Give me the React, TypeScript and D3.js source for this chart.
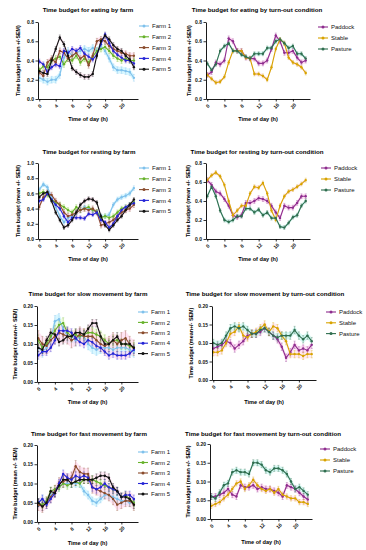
import * as d3 from "d3";
import { useEffect, useRef } from "react";

const hours = [0, 1, 2, 3, 4, 5, 6, 7, 8, 9, 10, 11, 12, 13, 14, 15, 16, 17, 18, 19, 20, 21, 22, 23];
const hourTicks = [0, 4, 8, 12, 16, 20];

const farmNames = ["Farm 1", "Farm 2", "Farm 3", "Farm 4", "Farm 5"];
const turnoutNames = ["Paddock", "Stable", "Pasture"];
const farmColors = ["#7fc1ec", "#67b22b", "#8a4b2c", "#2424d6", "#111111"];
const farmBands = ["#c9f3ff", "#f4ffd9", "#ffd9ee", "#ffd9ee", "#ffe3f2"];
const turnoutColors = ["#8e2d8e", "#d8a300", "#2f6e4f"];
const turnoutBands = ["#ffd2ef", "#ffe0f0", "#c8f6f0"];

// eating
const eatFarm1 = [0.22, 0.2, 0.18, 0.2, 0.2, 0.25, 0.43, 0.5, 0.45, 0.48, 0.5, 0.52, 0.5, 0.53, 0.5, 0.55, 0.5, 0.42, 0.33, 0.3, 0.3, 0.29, 0.28, 0.22];
const eatFarm2 = [0.3, 0.34, 0.33, 0.4, 0.42, 0.44, 0.36, 0.42, 0.4, 0.45, 0.38, 0.42, 0.38, 0.44, 0.5, 0.52, 0.54, 0.5, 0.45, 0.42, 0.4, 0.42, 0.4, 0.4];
const eatFarm3 = [0.28, 0.24, 0.38, 0.42, 0.38, 0.5, 0.48, 0.42, 0.45, 0.48, 0.42, 0.45, 0.35, 0.45, 0.6, 0.62, 0.6, 0.55, 0.52, 0.5, 0.48, 0.47, 0.45, 0.45];
const eatFarm4 = [0.39, 0.36, 0.28, 0.33, 0.36, 0.34, 0.5, 0.48, 0.52, 0.5, 0.53, 0.47, 0.44, 0.41, 0.46, 0.57, 0.67, 0.58, 0.5, 0.46, 0.43, 0.4, 0.4, 0.37];
const eatFarm5 = [0.29, 0.27, 0.26, 0.4, 0.52, 0.64, 0.57, 0.45, 0.32, 0.28, 0.25, 0.23, 0.23, 0.26, 0.45, 0.6, 0.66, 0.62, 0.56, 0.52, 0.5, 0.45, 0.41, 0.33];
const eatPaddock = [0.25, 0.28, 0.38, 0.36, 0.4, 0.63, 0.6, 0.5, 0.5, 0.43, 0.42, 0.42, 0.37, 0.37, 0.4, 0.52, 0.66, 0.6, 0.48, 0.48, 0.5, 0.43, 0.38, 0.4];
const eatStable = [0.25, 0.21, 0.17, 0.18, 0.23, 0.38, 0.5, 0.5, 0.5, 0.43, 0.42, 0.26, 0.26, 0.24, 0.2, 0.33, 0.52, 0.62, 0.58, 0.43, 0.38, 0.36, 0.33, 0.27];
const eatPasture = [0.37, 0.3, 0.36, 0.5, 0.55, 0.58, 0.5, 0.5, 0.46, 0.44, 0.42, 0.47, 0.47, 0.47, 0.53, 0.53, 0.6, 0.62, 0.58, 0.53, 0.55, 0.47, 0.47, 0.42];

// resting
const restFarm1 = [0.65, 0.72, 0.68, 0.55, 0.42, 0.3, 0.22, 0.28, 0.3, 0.35, 0.38, 0.42, 0.4, 0.38, 0.35, 0.3, 0.3, 0.32, 0.45, 0.52, 0.55, 0.57, 0.6, 0.67];
const restFarm2 = [0.6, 0.62, 0.58, 0.52, 0.48, 0.45, 0.42, 0.38, 0.35, 0.42, 0.38, 0.4, 0.42, 0.38, 0.36, 0.28, 0.3, 0.28, 0.3, 0.35, 0.4, 0.42, 0.45, 0.48];
const restFarm3 = [0.42, 0.55, 0.6, 0.58, 0.5, 0.45, 0.35, 0.3, 0.32, 0.35, 0.38, 0.4, 0.38, 0.4, 0.35, 0.18, 0.2, 0.22, 0.25, 0.3, 0.35, 0.38, 0.4, 0.45];
const restFarm4 = [0.5, 0.52, 0.6, 0.52, 0.45, 0.4, 0.3, 0.22, 0.28, 0.28, 0.28, 0.27, 0.33, 0.32, 0.35, 0.25, 0.22, 0.15, 0.2, 0.3, 0.38, 0.42, 0.45, 0.47];
const restFarm5 = [0.55, 0.6, 0.62, 0.5, 0.35, 0.25, 0.15, 0.18, 0.25, 0.35, 0.45, 0.5, 0.53, 0.52, 0.48, 0.3, 0.18, 0.12, 0.18, 0.25, 0.3, 0.38, 0.45, 0.52];
const restPaddock = [0.62, 0.57, 0.5, 0.48, 0.42, 0.35, 0.25, 0.23, 0.25, 0.38, 0.38, 0.4, 0.43, 0.42, 0.4, 0.35, 0.28, 0.22, 0.35, 0.33, 0.33, 0.38, 0.45, 0.45];
const restStable = [0.62, 0.67, 0.7, 0.66, 0.57, 0.4, 0.25, 0.3, 0.35, 0.35, 0.48, 0.55, 0.54, 0.59, 0.48, 0.3, 0.2, 0.35, 0.45, 0.5, 0.52, 0.55, 0.58, 0.62];
const restPasture = [0.45, 0.55, 0.45, 0.3, 0.2, 0.18, 0.2, 0.24, 0.24, 0.32, 0.32, 0.28, 0.31, 0.25, 0.28, 0.22, 0.22, 0.13, 0.12, 0.17, 0.23, 0.25, 0.35, 0.4];

// slow movement
const slowFarm1 = [0.09, 0.08, 0.09, 0.11, 0.16, 0.165, 0.14, 0.12, 0.12, 0.11, 0.12, 0.12, 0.1, 0.09, 0.085, 0.09, 0.09, 0.09, 0.085, 0.09, 0.09, 0.09, 0.085, 0.08];
const slowFarm2 = [0.11, 0.09, 0.1, 0.12, 0.135, 0.15, 0.155, 0.13, 0.12, 0.125, 0.12, 0.125, 0.13, 0.13, 0.125, 0.12, 0.11, 0.1, 0.11, 0.11, 0.1, 0.1, 0.095, 0.09];
const slowFarm3 = [0.115, 0.1, 0.095, 0.11, 0.12, 0.13, 0.125, 0.12, 0.11, 0.115, 0.125, 0.12, 0.12, 0.12, 0.11, 0.1, 0.095, 0.1, 0.11, 0.1, 0.11, 0.115, 0.1, 0.09];
const slowFarm4 = [0.07, 0.08, 0.08, 0.09, 0.11, 0.135, 0.135, 0.135, 0.13, 0.115, 0.105, 0.1, 0.11, 0.105, 0.095, 0.09, 0.08, 0.07, 0.075, 0.07, 0.07, 0.07, 0.075, 0.085];
const slowFarm5 = [0.09, 0.085, 0.11, 0.13, 0.125, 0.105, 0.11, 0.12, 0.12, 0.13, 0.13, 0.125, 0.14, 0.155, 0.155, 0.12, 0.1, 0.1, 0.11, 0.12, 0.1, 0.1, 0.1, 0.09];
const slowPaddock = [0.085, 0.09, 0.095, 0.105, 0.1, 0.085, 0.095, 0.105, 0.12, 0.125, 0.125, 0.13, 0.14, 0.13, 0.12, 0.11, 0.09, 0.06, 0.075, 0.095, 0.08, 0.085, 0.08, 0.095];
const slowStable = [0.075, 0.075, 0.08, 0.1, 0.125, 0.13, 0.145, 0.12, 0.115, 0.125, 0.13, 0.14, 0.15, 0.13, 0.145, 0.14, 0.12, 0.105, 0.07, 0.07, 0.07, 0.065, 0.07, 0.07];
const slowPasture = [0.1, 0.095, 0.1, 0.12, 0.14, 0.145, 0.14, 0.145, 0.135, 0.125, 0.125, 0.135, 0.14, 0.13, 0.12, 0.115, 0.12, 0.12, 0.12, 0.135, 0.12, 0.11, 0.12, 0.105];

// fast movement
const fastFarm1 = [0.05, 0.06, 0.05, 0.07, 0.08, 0.09, 0.1, 0.1, 0.1, 0.1, 0.1, 0.08, 0.07, 0.055, 0.05, 0.06, 0.07, 0.07, 0.065, 0.06, 0.055, 0.055, 0.05, 0.05];
const fastFarm2 = [0.05, 0.045, 0.055, 0.08, 0.085, 0.09, 0.1, 0.095, 0.1, 0.105, 0.1, 0.11, 0.11, 0.11, 0.105, 0.1, 0.095, 0.09, 0.085, 0.08, 0.065, 0.07, 0.06, 0.05];
const fastFarm3 = [0.045, 0.04, 0.05, 0.065, 0.08, 0.1, 0.105, 0.11, 0.115, 0.145, 0.13, 0.125, 0.125, 0.09, 0.085, 0.08, 0.075, 0.07, 0.06, 0.045, 0.05, 0.055, 0.055, 0.045];
const fastFarm4 = [0.05, 0.06, 0.045, 0.06, 0.075, 0.1, 0.125, 0.115, 0.11, 0.12, 0.115, 0.12, 0.115, 0.09, 0.085, 0.09, 0.1, 0.09, 0.085, 0.08, 0.065, 0.07, 0.07, 0.06];
const fastFarm5 = [0.05, 0.04, 0.05, 0.08, 0.075, 0.095, 0.11, 0.11, 0.1, 0.105, 0.11, 0.11, 0.11, 0.11, 0.115, 0.12, 0.12, 0.115, 0.09, 0.08, 0.065, 0.065, 0.06, 0.045];
const fastPaddock = [0.06, 0.06, 0.065, 0.07, 0.08, 0.065, 0.06, 0.09, 0.085, 0.085, 0.09, 0.08, 0.085, 0.08, 0.08, 0.075, 0.07, 0.06, 0.09, 0.085, 0.08, 0.07, 0.06, 0.052];
const fastStable = [0.035, 0.04, 0.045, 0.055, 0.065, 0.08, 0.095, 0.1, 0.08, 0.09, 0.105, 0.09, 0.08, 0.075, 0.08, 0.07, 0.08, 0.065, 0.06, 0.055, 0.055, 0.045, 0.045, 0.04];
const fastPasture = [0.06, 0.055, 0.07, 0.09, 0.095, 0.125, 0.13, 0.125, 0.125, 0.12, 0.15, 0.15, 0.145, 0.13, 0.125, 0.135, 0.135, 0.13, 0.12, 0.1, 0.08, 0.085, 0.075, 0.065];

// rough SEM per series, per panel
const semEatFarm = [0.035, 0.03, 0.03, 0.025, 0.025];
const semEatTurnout = [0.025, 0.02, 0.02];
const semRestFarm = [0.03, 0.03, 0.035, 0.025, 0.025];
const semRestTurnout = [0.025, 0.02, 0.02];
const semSlowFarm = [0.015, 0.014, 0.02, 0.01, 0.01];
const semSlowTurnout = [0.01, 0.01, 0.01];
const semFastFarm = [0.01, 0.01, 0.015, 0.01, 0.01];
const semFastTurnout = [0.008, 0.007, 0.008];

const FONT = "'Liberation Sans', Arial, sans-serif";

interface Series { name: string; values: number[]; color: string; band: string; sem: number }
interface Panel {
  title: string; ylabel: string; yMax: number; yTicks: number[]; fmt: string; series: Series[];
  ax: number; right: number; top: number; bottom: number;
  titleX: number; titleY: number; ylabX: number; xlabY: number;
  legX: number; legY: number; legStep: number;
}

const mk = (names: string[], vals: number[][], colors: string[], bands: string[], sems: number[]): Series[] =>
  names.map((n, i) => ({ name: n, values: vals[i], color: colors[i], band: bands[i], sem: sems[i] }));

const panels: Panel[] = [
  {
    title: "Time budget for eating by farm", ylabel: "Time budget (mean +/-SEM)", yMax: 0.8,
    yTicks: [0, 0.2, 0.4, 0.6, 0.8], fmt: ".1f",
    series: mk(farmNames, [eatFarm1, eatFarm2, eatFarm3, eatFarm4, eatFarm5], farmColors, farmBands, semEatFarm),
    ax: 38, right: 138, top: 22, bottom: 99, titleX: 88, titleY: 12, ylabX: 18, xlabY: 121,
    legX: 139, legY: 26, legStep: 10.8,
  },
  {
    title: "Time budget for eating by turn-out condition", ylabel: "Time budget (mean +/-SEM)", yMax: 0.8,
    yTicks: [0, 0.2, 0.4, 0.6, 0.8], fmt: ".1f",
    series: mk(turnoutNames, [eatPaddock, eatStable, eatPasture], turnoutColors, turnoutBands, semEatTurnout),
    ax: 206, right: 310, top: 22, bottom: 99, titleX: 257, titleY: 12, ylabX: 189, xlabY: 121,
    legX: 318, legY: 27, legStep: 11,
  },
  {
    title: "Time budget for resting by farm", ylabel: "Time budget (mean +/- SEM)", yMax: 1.0,
    yTicks: [0, 0.2, 0.4, 0.6, 0.8, 1.0], fmt: ".1f",
    series: mk(farmNames, [restFarm1, restFarm2, restFarm3, restFarm4, restFarm5], farmColors, farmBands, semRestFarm),
    ax: 38, right: 138, top: 163, bottom: 239, titleX: 89, titleY: 154, ylabX: 18, xlabY: 261,
    legX: 139, legY: 168, legStep: 10.8,
  },
  {
    title: "Time budget for resting by turn-out condition", ylabel: "Time budget (mean +/- SEM)", yMax: 0.8,
    yTicks: [0, 0.2, 0.4, 0.6, 0.8], fmt: ".1f",
    series: mk(turnoutNames, [restPaddock, restStable, restPasture], turnoutColors, turnoutBands, semRestTurnout),
    ax: 206, right: 310, top: 163, bottom: 239, titleX: 257, titleY: 154, ylabX: 188, xlabY: 261,
    legX: 321, legY: 168, legStep: 11,
  },
  {
    title: "Time budget for slow movement by farm", ylabel: "Time budget (mean+/- SEM)", yMax: 0.2,
    yTicks: [0, 0.05, 0.1, 0.15, 0.2], fmt: ".2f",
    series: mk(farmNames, [slowFarm1, slowFarm2, slowFarm3, slowFarm4, slowFarm5], farmColors, farmBands, semSlowFarm),
    ax: 37, right: 138, top: 306, bottom: 382, titleX: 88, titleY: 296, ylabX: 15, xlabY: 404,
    legX: 138, legY: 312, legStep: 10.4,
  },
  {
    title: "Time budget for slow movement by turn-out condition", ylabel: "Time budget (mean+/- SEM)", yMax: 0.2,
    yTicks: [0, 0.05, 0.1, 0.15, 0.2], fmt: ".2f",
    series: mk(turnoutNames, [slowPaddock, slowStable, slowPasture], turnoutColors, turnoutBands, semSlowTurnout),
    ax: 212, right: 316, top: 306, bottom: 380, titleX: 265, titleY: 296, ylabX: 191, xlabY: 404,
    legX: 326, legY: 312, legStep: 10.8,
  },
  {
    title: "Time budget for fast movement by farm", ylabel: "Time budget (mean +/- SEM)", yMax: 0.2,
    yTicks: [0, 0.05, 0.1, 0.15, 0.2], fmt: ".2f",
    series: mk(farmNames, [fastFarm1, fastFarm2, fastFarm3, fastFarm4, fastFarm5], farmColors, farmBands, semFastFarm),
    ax: 37, right: 138, top: 445, bottom: 522, titleX: 89, titleY: 436, ylabX: 15, xlabY: 545,
    legX: 138, legY: 452, legStep: 10.5,
  },
  {
    title: "Time budget for fast movement by turn-out condition", ylabel: "Time budget (mean +/- SEM)", yMax: 0.2,
    yTicks: [0, 0.05, 0.1, 0.15, 0.2], fmt: ".2f",
    series: mk(turnoutNames, [fastPaddock, fastStable, fastPasture], turnoutColors, turnoutBands, semFastTurnout),
    ax: 210, right: 312, top: 444, bottom: 519, titleX: 263, titleY: 436, ylabX: 188, xlabY: 544,
    legX: 320, legY: 449, legStep: 11,
  },
];

function drawPanel(svg: d3.Selection<SVGSVGElement, unknown, null, undefined>, p: Panel) {
  const x = d3.scaleLinear().domain([-0.3, 24]).range([p.ax, p.right]);
  const y = d3.scaleLinear().domain([0, p.yMax]).range([p.bottom, p.top]);
  const g = svg.append("g");

  // light SEM bands
  p.series.forEach((s) => {
    const area = d3
      .area<number>()
      .x((_, i) => x(hours[i]))
      .y0((d) => y(Math.max(0, d - s.sem)))
      .y1((d) => y(d + s.sem));
    g.append("path").attr("d", area(s.values)).attr("fill", s.band).attr("opacity", 0.7);
  });

  // error bars
  p.series.forEach((s) => {
    const eb = g.append("g").attr("stroke", s.color).attr("stroke-width", 0.5).attr("opacity", 0.65);
    s.values.forEach((v, i) => {
      const cx = x(hours[i]);
      eb.append("line").attr("x1", cx).attr("x2", cx).attr("y1", y(v - s.sem)).attr("y2", y(v + s.sem));
      eb.append("line").attr("x1", cx - 1).attr("x2", cx + 1).attr("y1", y(v + s.sem)).attr("y2", y(v + s.sem));
      eb.append("line").attr("x1", cx - 1).attr("x2", cx + 1).attr("y1", y(v - s.sem)).attr("y2", y(v - s.sem));
    });
  });

  const line = d3
    .line<number>()
    .x((_, i) => x(hours[i]))
    .y((d) => y(d));

  p.series.forEach((s) => {
    g.append("path").attr("d", line(s.values)).attr("fill", "none").attr("stroke", s.color).attr("stroke-width", 1.1);
    g.selectAll(null)
      .data(s.values)
      .enter()
      .append("circle")
      .attr("cx", (_, i) => x(hours[i]))
      .attr("cy", (d) => y(d))
      .attr("r", 1.2)
      .attr("fill", s.color);
  });

  // axes
  const yAxis = d3.axisLeft(y).tickValues(p.yTicks).tickSize(2.5).tickSizeOuter(0).tickPadding(1.5)
    .tickFormat((d) => d3.format(p.fmt)(d as number));
  const ya = g.append("g").attr("transform", `translate(${p.ax},0)`).call(yAxis);
  const xAxis = d3.axisBottom(x).tickValues(hourTicks).tickSize(2.5).tickSizeOuter(0).tickFormat((d) => String(d));
  const xa = g.append("g").attr("transform", `translate(0,${p.bottom})`).call(xAxis);
  [ya, xa].forEach((a) => {
    a.select(".domain").attr("stroke", "#000").attr("stroke-width", 0.9);
    a.selectAll(".tick line").attr("stroke", "#000").attr("stroke-width", 0.8);
    a.selectAll(".tick text")
      .attr("fill", "#111")
      .attr("font-size", 5)
      .attr("font-weight", "bold")
      .attr("font-family", FONT);
  });
  xa.selectAll(".tick text")
    .attr("x", 0)
    .attr("y", 0)
    .attr("dy", "0.35em")
    .attr("text-anchor", "middle")
    .attr("transform", "translate(0,7) rotate(-45)");

  // labels
  svg.append("text")
    .attr("x", p.titleX).attr("y", p.titleY).attr("text-anchor", "middle")
    .attr("font-size", 6.2).attr("font-weight", "bold").attr("font-family", FONT).attr("fill", "#000")
    .text(p.title);
  const midY = (p.top + p.bottom) / 2;
  svg.append("text")
    .attr("transform", `translate(${p.ylabX},${midY}) rotate(-90)`)
    .attr("text-anchor", "middle").attr("dy", "0.35em")
    .attr("font-size", 5.4).attr("font-weight", "bold").attr("font-family", FONT).attr("fill", "#000")
    .text(p.ylabel);
  svg.append("text")
    .attr("x", (p.ax + p.right) / 2).attr("y", p.xlabY).attr("text-anchor", "middle")
    .attr("font-size", 5.6).attr("font-weight", "bold").attr("font-family", FONT).attr("fill", "#000")
    .text("Time of day (h)");

  // legend
  p.series.forEach((s, i) => {
    const ly = p.legY + i * p.legStep;
    svg.append("line").attr("x1", p.legX).attr("x2", p.legX + 10).attr("y1", ly).attr("y2", ly)
      .attr("stroke", s.color).attr("stroke-width", 1.1);
    svg.append("circle").attr("cx", p.legX + 5).attr("cy", ly).attr("r", 1.5).attr("fill", s.color);
    svg.append("text").attr("x", p.legX + 13).attr("y", ly).attr("dy", "0.35em")
      .attr("font-size", 6).attr("font-family", FONT).attr("fill", "#111")
      .text(s.name);
  });
}

export default function App() {
  const svgRef = useRef<SVGSVGElement>(null);

  useEffect(() => {
    if (!svgRef.current) return;
    const svg = d3.select<SVGSVGElement, unknown>(svgRef.current);
    svg.selectAll("*").remove();
    svg.append("rect").attr("width", 366).attr("height", 550).attr("fill", "#fff");
    panels.forEach((p) => drawPanel(svg, p));
  }, []);

  return (
    <svg
      ref={svgRef}
      width={366}
      height={550}
      style={{ position: "absolute", left: 0, top: 0, display: "block" }}
    />
  );
}
